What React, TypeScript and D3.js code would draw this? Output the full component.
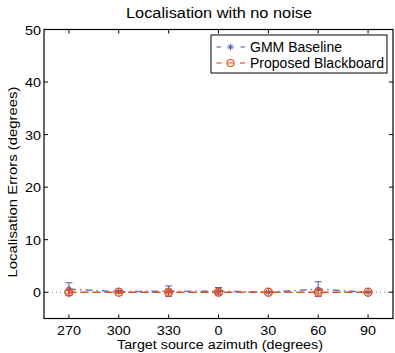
import React from "react";
import * as d3 from "d3";

const categories = ["270", "300", "330", "0", "30", "60", "90"];
const gmmMean = [0.6, 0.1, 0.2, 0.2, 0.0, 0.6, 0.0];
const gmmErr = [1.2, 0.2, 1.0, 0.7, 0.1, 1.4, 0.1];
const bbMean = [0.0, 0.0, 0.0, 0.0, 0.0, 0.0, 0.0];
const bbErr = [0.3, 0.2, 0.3, 0.3, 0.1, 0.3, 0.1];
const yTicks = [0, 10, 20, 30, 40, 50];

const W = 395, H = 353;
const L = 44, R = 393, T = 29.5, B = 318.5;
const BLUE = "#4a5ba8";
const RED = "#e4531f";
const FONT = "'Liberation Sans', Arial, Helvetica, sans-serif";

export default function App() {
  const x = d3.scaleLinear().domain([-0.5, 6.5]).range([L, R]);
  const y = d3.scaleLinear().domain([-5, 50]).range([B, T]);
  const line = d3.line<number>().x((_, i) => x(i)).y(d => y(d));
  const tk = 4;

  const star = (cx: number, cy: number, key: string, c: string) => {
    const s = 3.2;
    const d = s * 0.707;
    return (
      <g key={key} stroke={c} strokeWidth={1}>
        <line x1={cx - s} y1={cy} x2={cx + s} y2={cy} />
        <line x1={cx} y1={cy - s} x2={cx} y2={cy + s} />
        <line x1={cx - d} y1={cy - d} x2={cx + d} y2={cy + d} />
        <line x1={cx - d} y1={cy + d} x2={cx + d} y2={cy - d} />
      </g>
    );
  };
  const errbar = (i: number, m: number, e: number, c: string, key: string) => {
    const cx = x(i);
    const w = 3.5;
    return (
      <g key={key} stroke={c} strokeWidth={1}>
        <line x1={cx} y1={y(m - e)} x2={cx} y2={y(m + e)} />
        <line x1={cx - w} y1={y(m + e)} x2={cx + w} y2={y(m + e)} />
        <line x1={cx - w} y1={y(m - e)} x2={cx + w} y2={y(m - e)} />
      </g>
    );
  };

  return (
    <svg width={W} height={H} style={{ position: "absolute", left: 0, top: 0, background: "#fff" }} fontFamily={FONT}>
      <rect x={0} y={0} width={W} height={H} fill="#fff" />
      <line x1={L} x2={R} y1={y(0)} y2={y(0)} stroke="#555" strokeWidth={0.8} strokeDasharray="1,3" />
      <path d={line(gmmMean) || ""} fill="none" stroke={BLUE} strokeWidth={1.6} strokeOpacity={0.8} strokeDasharray="7,4,1.5,4" />
      {gmmMean.map((m, i) => errbar(i, m, gmmErr[i], BLUE, "ge" + i))}
      {gmmMean.map((m, i) => star(x(i), y(m), "gs" + i, BLUE))}
      <path d={line(bbMean) || ""} fill="none" stroke={RED} strokeWidth={1.6} strokeDasharray="7,5" />
      {bbMean.map((m, i) => errbar(i, m, bbErr[i], RED, "be" + i))}
      {bbMean.map((m, i) => (
        <circle key={"bc" + i} cx={x(i)} cy={y(m)} r={4} fill="none" stroke={RED} strokeWidth={1.4} />
      ))}
      <rect x={L} y={T} width={R - L} height={B - T} fill="none" stroke="#000" strokeWidth={1.2} />
      {categories.map((c, i) => (
        <g key={"xt" + i}>
          <line x1={x(i)} x2={x(i)} y1={B} y2={B - tk} stroke="#000" />
          <line x1={x(i)} x2={x(i)} y1={T} y2={T + tk} stroke="#000" />
          <text x={x(i)} y={334.5} textAnchor="middle" fontSize={13.5} textLength={c.length * 8} lengthAdjust="spacingAndGlyphs" fill="#000">{c}</text>
        </g>
      ))}
      {yTicks.map((v) => (
        <g key={"yt" + v}>
          <line x1={L} x2={L + tk} y1={y(v)} y2={y(v)} stroke="#000" />
          <line x1={R} x2={R - tk} y1={y(v)} y2={y(v)} stroke="#000" />
          <text x={41} y={y(v) + 5} textAnchor="end" fontSize={13.5} textLength={String(v).length * 8} lengthAdjust="spacingAndGlyphs" fill="#000">{v}</text>
        </g>
      ))}
      <text x={219} y={17.5} textAnchor="middle" fontSize={14} textLength={186} lengthAdjust="spacingAndGlyphs" fill="#000">Localisation with no noise</text>
      <text x={220} y={348.5} textAnchor="middle" fontSize={12.5} textLength={206} lengthAdjust="spacingAndGlyphs" fill="#000">Target source azimuth (degrees)</text>
      <text transform={`translate(17,182) rotate(-90)`} textAnchor="middle" fontSize={13.5} textLength={191} lengthAdjust="spacingAndGlyphs" fill="#000">Localisation Errors (degrees)</text>
      <g>
        <rect x={211} y={35} width={176} height={38} fill="#fff" stroke="#000" strokeWidth={1} />
        <line x1={216.5} x2={221} y1={47} y2={47} stroke={BLUE} strokeWidth={1} />
        <line x1={240.5} x2={245} y1={47} y2={47} stroke={BLUE} strokeWidth={1} />
        {star(230.5, 47, "ls", BLUE)}
        <text x={250} y={51.5} fontSize={14} textLength={92} lengthAdjust="spacingAndGlyphs" fill="#000">GMM Baseline</text>
        <line x1={216.5} x2={221.5} y1={63} y2={63} stroke={RED} strokeWidth={1.2} />
        <line x1={240} x2={245} y1={63} y2={63} stroke={RED} strokeWidth={1.2} />
        <circle cx={230.5} cy={63} r={3.5} fill="none" stroke={RED} strokeWidth={1.2} />
        <line x1={227.5} x2={233.5} y1={63} y2={63} stroke={RED} strokeWidth={1} />
        <text x={250} y={67.5} fontSize={14} textLength={134} lengthAdjust="spacingAndGlyphs" fill="#000">Proposed Blackboard</text>
      </g>
    </svg>
  );
}
